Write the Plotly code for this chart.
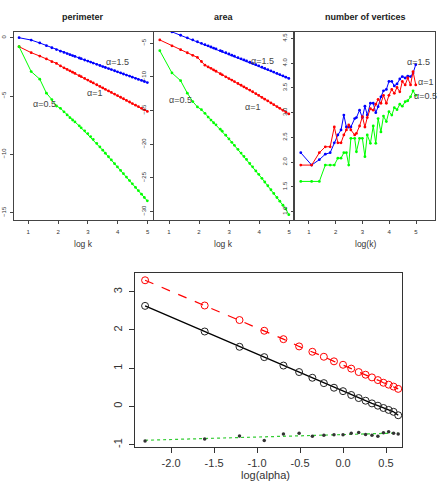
import numpy as np
import plotly.graph_objects as go

# ---------------- data ----------------
k_vals = [2, 3, 4, 5, 6, 7, 8, 9, 10, 11, 12, 13, 15, 16, 18, 20, 22, 24, 27, 30,
          33, 36, 40, 44, 49, 54, 60, 66, 73, 81, 89, 99, 109, 121, 133, 147]

perim_a15 = [0.00, -0.20, -0.45, -0.68, -0.86, -1.02, -1.15, -1.26, -1.36, -1.45,
             -1.53, -1.60, -1.74, -1.80, -1.91, -2.00, -2.09, -2.17, -2.28, -2.38,
             -2.47, -2.55, -2.64, -2.73, -2.83, -2.92, -3.02, -3.11, -3.20, -3.29,
             -3.38, -3.48, -3.57, -3.66, -3.75, -3.84]
perim_a1 = [-0.77, -1.28, -1.57, -1.82, -2.05, -2.20, -2.42, -2.58, -2.72, -2.84,
            -2.95, -3.06, -3.25, -3.33, -3.49, -3.63, -3.76, -3.87, -4.03, -4.17,
            -4.30, -4.42, -4.56, -4.69, -4.83, -4.96, -5.10, -5.23, -5.37, -5.51,
            -5.64, -5.78, -5.91, -6.05, -6.18, -6.32]
perim_a05 = [-0.77, -2.90, -3.55, -4.75, -5.30, -5.85, -6.05, -6.35, -6.62, -6.85,
             -7.05, -7.22, -7.55, -7.72, -7.98, -8.22, -8.48, -8.72, -9.06, -9.36,
             -9.64, -9.90, -10.20, -10.47, -10.79, -11.07, -11.37, -11.65, -11.94, -12.24,
             -12.52, -12.83, -13.11, -13.41, -13.69, -13.98]

area_a15 = [-2.58, -3.30, -3.80, -4.18, -4.50, -4.77, -5.00, -5.20, -5.38, -5.55,
            -5.70, -5.84, -6.09, -6.20, -6.40, -6.59, -6.76, -6.91, -7.12, -7.30,
            -7.47, -7.62, -7.81, -7.98, -8.17, -8.35, -8.54, -8.72, -8.90, -9.09,
            -9.27, -9.47, -9.65, -9.85, -10.03, -10.22]
area_a1 = [-4.50, -5.38, -5.95, -6.40, -6.78, -7.10, -7.70, -8.25, -8.50, -8.72,
           -8.95, -9.15, -9.52, -9.68, -9.97, -10.23, -10.46, -10.68, -10.97, -11.23,
           -11.47, -11.69, -11.95, -12.19, -12.48, -12.74, -13.03, -13.29, -13.56, -13.85,
           -14.11, -14.40, -14.66, -14.95, -15.21, -15.48]
area_a05 = [-6.10, -9.40, -10.55, -12.40, -13.65, -14.45, -14.85, -15.40, -15.95, -16.40,
            -16.80, -17.10, -17.75, -18.05, -18.65, -19.20, -19.70, -20.15, -20.75, -21.30,
            -21.80, -22.25, -22.85, -23.35, -23.95, -24.45, -25.05, -25.60, -26.15, -26.75,
            -27.30, -27.90, -28.45, -29.05, -29.60, -30.45]

vert_a15 = [2.19, 1.94, 2.05, 2.16, 2.19, 2.39, 2.55, 2.65, 2.95, 2.71,
            2.71, 2.71, 2.88, 2.90, 3.05, 2.90, 3.13, 2.95, 3.19, 3.19,
            3.00, 3.12, 3.32, 3.44, 3.47, 3.63, 3.63, 3.54, 3.58, 3.68,
            3.73, 3.70, 3.74, 3.73, 3.80, 3.97]
vert_a1 = [1.94, 1.94, 2.19, 2.31, 2.31, 2.71, 2.39, 2.39, 2.55, 2.65,
           2.75, 2.65, 2.55, 2.58, 2.73, 2.92, 2.71, 2.90, 3.08, 3.05,
           3.17, 3.27, 3.19, 3.35, 3.19, 3.35, 3.47, 3.39, 3.51, 3.42,
           3.63, 3.56, 3.70, 3.56, 3.83, 3.56]
vert_a05 = [1.61, 1.61, 1.61, 1.94, 1.94, 1.94, 2.08, 2.08, 2.19, 2.19,
            1.94, 2.48, 2.48, 2.21, 2.48, 2.48, 2.11, 2.55, 2.38, 2.73,
            2.38, 2.88, 2.61, 2.93, 2.82, 3.02, 2.95, 3.10, 3.06, 3.17,
            3.13, 3.22, 3.24, 3.32, 3.44, 3.35]

alpha_vals = [0.1, 0.2, 0.3, 0.4, 0.5, 0.6, 0.7, 0.8, 0.9, 1.0,
              1.1, 1.2, 1.3, 1.4, 1.5, 1.6, 1.7, 1.8, 1.9]
slope_black = [2.63, 1.96, 1.56, 1.29, 1.07, 0.90, 0.75, 0.61, 0.49, 0.40,
               0.30, 0.22, 0.15, 0.08, 0.02, -0.04, -0.09, -0.14, -0.23]
slope_red = [3.30, 2.64, 2.26, 1.98, 1.76, 1.57, 1.43, 1.30, 1.18, 1.09,
             0.99, 0.90, 0.83, 0.76, 0.69, 0.62, 0.57, 0.52, 0.46]
slope_green = [-0.90, -0.85, -0.77, -0.89, -0.72, -0.70, -0.78, -0.75, -0.74, -0.74,
               -0.70, -0.68, -0.73, -0.75, -0.78, -0.69, -0.66, -0.70, -0.72]

top_titles = ["perimeter", "area", "number of vertices"]
top_xtitles = ["log k", "log k", "log(k)"]
bottom_xtitle = "log(alpha)"
top_xticks = [1, 2, 3, 4, 5]
perim_yticks = [0, -5, -10, -15]
area_yticks = [-5, -10, -15, -20, -25, -30]
vert_yticks = [1.0, 1.5, 2.0, 2.5, 3.0, 3.5, 4.0, 4.5]
bot_xticks = [-2.0, -1.5, -1.0, -0.5, 0.0, 0.5]
bot_yticks = [-1, 0, 1, 2, 3]

# ---------------- figure ----------------
W, H = 438, 481
logk = np.log(k_vals)
loga = np.log(alpha_vals)

fig = go.Figure()
BLUE, RED, GREEN = "#0000FF", "#FF0000", "#00FF00"
FONT_TOP = "Liberation Sans Narrow, Liberation Sans, Arial, sans-serif"
FONT_BOT = "Liberation Sans, Arial, sans-serif"


def add_series(ys, color, xa, ya):
    fig.add_trace(go.Scatter(
        x=logk, y=ys, mode="lines+markers", xaxis=xa, yaxis=ya,
        line=dict(color=color, width=1), marker=dict(color=color, size=2.8),
        showlegend=False, cliponaxis=True))


for ys, c in [(perim_a15, BLUE), (perim_a1, RED), (perim_a05, GREEN)]:
    add_series(ys, c, "x", "y")
for ys, c in [(area_a15, BLUE), (area_a1, RED), (area_a05, GREEN)]:
    add_series(ys, c, "x2", "y2")
for ys, c in [(vert_a15, BLUE), (vert_a1, RED), (vert_a05, GREEN)]:
    add_series(ys, c, "x3", "y3")

# bottom panel
fig.add_trace(go.Scatter(
    x=loga, y=slope_red, mode="lines+markers", xaxis="x4", yaxis="y4",
    line=dict(color=RED, width=1.2, dash="dash"),
    marker=dict(symbol="circle-open", color=RED, size=7, line=dict(width=1)),
    showlegend=False))
fig.add_trace(go.Scatter(
    x=loga, y=slope_black, mode="lines+markers", xaxis="x4", yaxis="y4",
    line=dict(color="black", width=1.3),
    marker=dict(symbol="circle-open", color="#222", size=7, line=dict(width=1)),
    showlegend=False))
coef = np.polyfit(loga, slope_green, 1)
fit_x = np.array([loga.min(), loga.max()])
fig.add_trace(go.Scatter(
    x=fit_x, y=np.polyval(coef, fit_x), mode="lines", xaxis="x4", yaxis="y4",
    line=dict(color="#33cc33", width=1.2, dash="dot"), showlegend=False))
fig.add_trace(go.Scatter(
    x=loga, y=slope_green, mode="markers", xaxis="x4", yaxis="y4",
    marker=dict(symbol="circle", color="#333", size=3.5), showlegend=False))


def px(x0, x1):
    return [x0 / W, x1 / W]


def py(top, bottom):
    return [1 - bottom / H, 1 - top / H]


top_ax = dict(showline=True, mirror=True, linecolor="#444", linewidth=1,
              ticks="outside", ticklen=3, tickcolor="#444", tickwidth=0.8,
              showgrid=False, zeroline=False,
              tickfont=dict(size=6, color="#333", family=FONT_TOP))

fig.update_layout(
    width=W, height=H, margin=dict(l=0, r=0, t=0, b=0),
    paper_bgcolor="white", plot_bgcolor="white",
    xaxis=dict(domain=px(14, 153), range=[0.523, 5.18], tickvals=top_xticks,
               anchor="y", ticklabelstandoff=3, **top_ax),
    yaxis=dict(domain=py(32, 220), range=[-15.62, 0.49], tickvals=perim_yticks,
               anchor="x", tickangle=-90, ticklabelstandoff=2, **top_ax),
    xaxis2=dict(domain=px(154, 293), range=[0.5, 5.13], tickvals=top_xticks,
                anchor="y2", ticklabelstandoff=3, **top_ax),
    yaxis2=dict(domain=py(32, 220), range=[-31.24, -3.32], tickvals=area_yticks,
                anchor="x2", tickangle=-90, ticklabelstandoff=2, **top_ax),
    xaxis3=dict(domain=px(295, 435), range=[0.477, 5.71], tickvals=top_xticks,
                anchor="y3", ticklabelstandoff=3, **top_ax),
    yaxis3=dict(domain=py(32, 220), range=[0.83, 4.63], tickvals=vert_yticks,
                ticktext=[f"{v:.1f}" for v in vert_yticks],
                anchor="x3", tickangle=-90, ticklabelstandoff=2, **top_ax),
    xaxis4=dict(domain=px(135, 402), range=[-2.42, 0.686], tickvals=bot_xticks,
                ticktext=[f"{v:.1f}" for v in bot_xticks],
                anchor="y4", showline=True, mirror=True, linecolor="#333", linewidth=1.2,
                ticks="outside", ticklen=5, tickcolor="#333", showgrid=False, zeroline=False,
                ticklabelstandoff=1,
                tickfont=dict(size=11, color="#333", family=FONT_BOT)),
    yaxis4=dict(domain=py(273, 447), range=[-1.06, 3.49], tickvals=bot_yticks,
                ticktext=[str(v) for v in bot_yticks],
                anchor="x4", showline=True, mirror=True, linecolor="#333", linewidth=1.2,
                ticks="outside", ticklen=5, tickcolor="#333", showgrid=False, zeroline=False,
                tickangle=-90, ticklabelstandoff=3,
                tickfont=dict(size=11, color="#333", family=FONT_BOT)),
)

ann = []
# panel titles & x titles
for cx, t in zip([83, 224, 365], top_titles):
    ann.append(dict(x=cx / W, y=1 - 17 / H, xref="paper", yref="paper", text=f"<b>{t}</b>",
                    showarrow=False, xanchor="center", yanchor="middle",
                    font=dict(size=9, family=FONT_TOP, color="#222")))
for cx, t in zip([83, 223, 365], top_xtitles):
    ann.append(dict(x=cx / W, y=1 - 244 / H, xref="paper", yref="paper", text=t,
                    showarrow=False, xanchor="center", yanchor="middle",
                    font=dict(size=8.5, family=FONT_TOP, color="#333")))
ann.append(dict(x=265 / W, y=1 - 475 / H, xref="paper", yref="paper", text=bottom_xtitle,
                showarrow=False, xanchor="center", yanchor="middle",
                font=dict(size=11, family=FONT_BOT, color="#333")))

# alpha labels in data coordinates
lab_font = dict(size=9, family=FONT_TOP, color="#444")
for xa, ya, pts in [
    ("x", "y", [(4.0, -2.06, "α=1.5"), (3.22, -4.77, "α=1"), (1.56, -5.68, "α=0.5")]),
    ("x2", "y2", [(4.11, -7.58, "α=1.5"), (3.78, -14.4, "α=1"), (1.37, -13.4, "α=0.5")]),
    ("x3", "y3", [(5.11, 4.02, "α=1.5"), (5.34, 3.61, "α=1"), (5.35, 3.34, "α=0.5")]),
]:
    for x, y, t in pts:
        ann.append(dict(x=x, y=y, xref=xa, yref=ya, text=t, showarrow=False,
                        xanchor="center", yanchor="middle", font=lab_font))

fig.update_layout(annotations=ann)
fig.write_html("out.html")
